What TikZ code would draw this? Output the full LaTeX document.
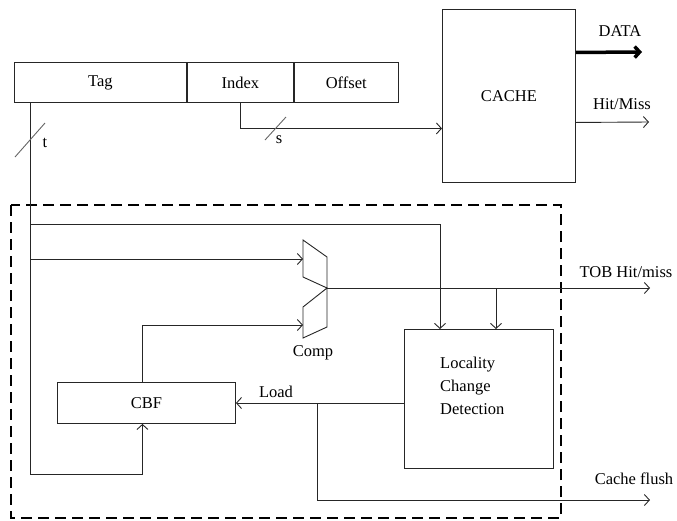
\documentclass[tikz,border=0pt]{standalone}
\usepackage{fontspec}
\setmainfont{Liberation Serif}
\usetikzlibrary{positioning,arrows.meta}

\begin{document}
\begin{tikzpicture}[x=1pt,y=-1pt,>={Straight Barb[length=5pt,width=11pt]},
    every node/.style={font=\fontsize{16.5}{23}\selectfont},
    wire/.style={draw=black!85,line width=0.9pt},
    field/.style={draw=black!85,line width=0.9pt,minimum height=40pt,inner sep=0pt},
    block/.style={draw=black!85,line width=0.9pt,inner sep=0pt},
    dashbox/.style={line width=2.6pt,dash pattern=on 11pt off 6pt}]

    \useasboundingbox (0,0) rectangle (677,520);

    % address fields
    \node[field,minimum width=172pt,anchor=north west] (tag) at (14,62) {Tag};
    \node[field,minimum width=106pt] (index) [right=0pt of tag] {Index};
    \node[field,minimum width=104pt] (offset) [right=0pt of index] {Offset};

    \node[block,minimum width=133pt,minimum height=173pt,anchor=north west] (cache) at (442,9) {CACHE};
    \node[block,minimum width=178pt,minimum height=41pt,anchor=north west] (cbf) at (57,382) {CBF};
    \node[block,minimum width=149pt,minimum height=139pt,anchor=north west] (lcd) at (404,329) {};
    \node[align=left,anchor=north west,inner sep=0pt] (lcdtext) at (440,357) {Locality\\Change\\Detection};

    % comparator
    \draw[wire] (303,240) -- (327,257) -- (327,327) -- (303,338) -- (303,307) -- (327,288) -- (303,277) -- cycle;
    \coordinate (cmpa) at (303,259);
    \coordinate (cmpb) at (303,325);
    \coordinate (cmpo) at (327,288);
    \coordinate (t0) at ([xshift=16pt]tag.south west);

    \draw[dashbox] (11,205) rectangle (561,518);

    % cache side
    \draw[wire,->] (index.south) |- ([yshift=-32.5pt]cache.west);
    \draw[line width=3.5pt,->] ([yshift=43.5pt]cache.east) -- (642,52);
    \draw[wire,->] ([yshift=-26.5pt]cache.east) -- (649,122);
    \node (data) at (620,31) {DATA};
    \node (hm) at (622,104) {Hit/Miss};

    % tag wires
    \draw[wire,->] (t0) -- (30,474) -| ([xshift=-4pt]cbf.south);
    \draw[wire,->] (30,224) -| ([xshift=36pt]lcd.north west);
    \draw[wire,->] (30,259) -- (cmpa);
    \draw[wire,->] ([xshift=-4pt]cbf.north) |- (cmpb);
    \draw[wire,->] (cmpo) -- (650,288);
    \draw[wire,->] (496,288) -- ([xshift=92pt]lcd.north west);
    \draw[wire,->] (lcd.west |- 0,403) -- (cbf.east |- 0,403);
    \draw[wire,->] (317,403) |- (650,500);

    % width marks
    \draw[wire,black!60] (15,157) -- (45,123);
    \draw[wire,black!60] (265,140) -- (286,117);
    \node (t) at (45,143) {t};
    \node (s) at (279,140) {s};

    \node (tob) at (626,272) {TOB Hit/miss};
    \node (comp) at (313,353) {Comp};
    \node (load) at (276,392) {Load};
    \node (flush) at (634,479) {Cache flush};
\end{tikzpicture}
\end{document}
